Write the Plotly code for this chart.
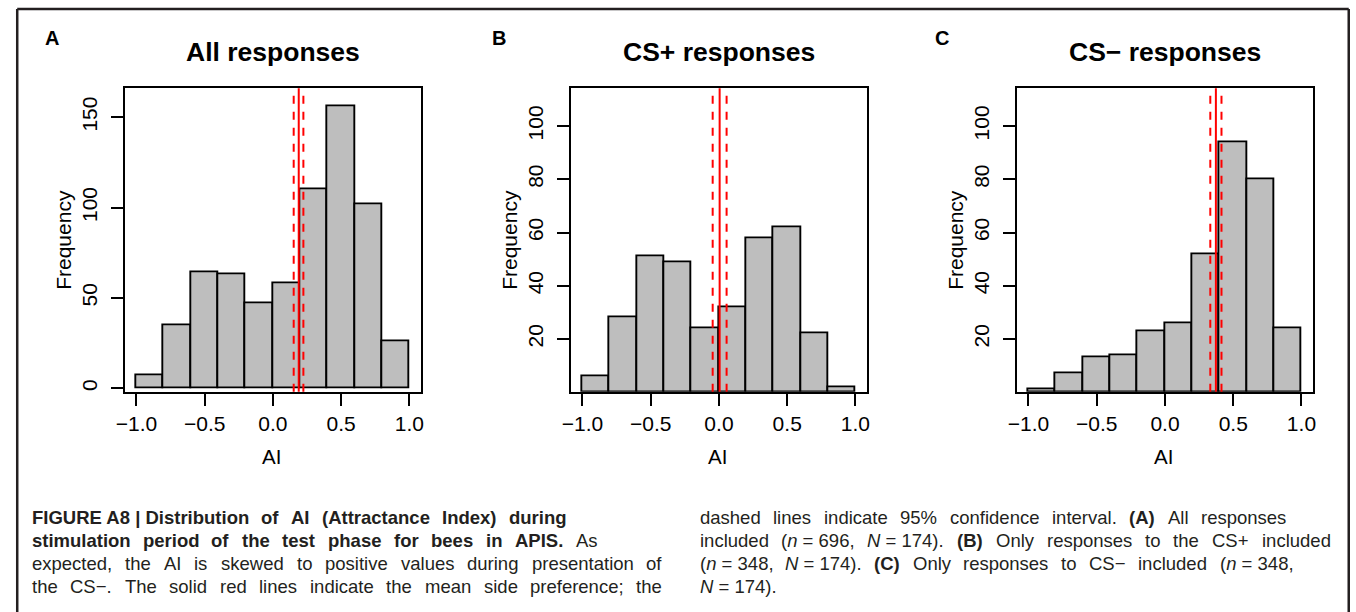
import plotly.graph_objects as go

# ---------------- data ----------------
BIN_EDGES = [-1.0, -0.8, -0.6, -0.4, -0.2, 0.0, 0.2, 0.4, 0.6, 0.8, 1.0]
COUNTS_ALL = [7, 35, 64, 63, 47, 58, 110, 156, 102, 26]
COUNTS_CS_PLUS = [6, 28, 51, 49, 24, 32, 58, 62, 22, 2]
COUNTS_CS_MINUS = [1, 7, 13, 14, 23, 26, 52, 94, 80, 24]
MEAN_AI = [0.189, 0.005, 0.373]
CI_LOW = [0.152, -0.046, 0.332]
CI_HIGH = [0.223, 0.056, 0.414]
PANEL_TITLES = ["All responses", "CS+ responses", "CS\u2212 responses"]
PANEL_LETTERS = ["A", "B", "C"]
X_TICKS = [-1.0, -0.5, 0.0, 0.5, 1.0]
X_TICK_LABELS = ["\u22121.0", "\u22120.5", "0.0", "0.5", "1.0"]
Y_TICKS = [[0, 50, 100, 150], [20, 40, 60, 80, 100], [20, 40, 60, 80, 100]]
X_LABEL = "AI"
Y_LABEL = "Frequency"

CAPTION_LEFT = [
    [("FIGURE A8 | Distribution", True), ("of", True), ("AI", True), ("(Attractance", True), ("Index)", True), ("during", True)],
    [("stimulation", True), ("period", True), ("of", True), ("the", True), ("test", True), ("phase", True),
     ("for", True), ("bees", True), ("in", True), ("APIS.", True), ("As", False)],
    [(w, False) for w in "expected, the AI is skewed to positive values during presentation of".split(" ")],
    [(w, False) for w in "the CS\u2212. The solid red lines indicate the mean side preference; the".split(" ")],
]
CAPTION_RIGHT = [
    [(w, False) for w in "dashed lines indicate 95% confidence interval.".split(" ")]
    + [("(A)", True), ("All", False), ("responses", False)],
    [("included", False), ("(<i>n</i> = 696,", False), ("<i>N</i> = 174).", False), ("(B)", True)]
    + [(w, False) for w in "Only responses to the CS+ included".split(" ")],
    [("(<i>n</i> = 348,", False), ("<i>N</i> = 174).", False), ("(C)", True)]
    + [(w, False) for w in "Only responses to CS\u2212 included".split(" ")] + [("(<i>n</i> = 348,", False)],
    [("<i>N</i> = 174).", False)],
]

# ---------------- layout constants (pixels) ----------------
W, H = 1356, 612
FONT = "Liberation Sans, Arial, Helvetica, sans-serif"
PLOT_LEFT = [117.3, 567.3, 1017.3]
PLOT_W = 298.0
PLOT_TOP, PLOT_BOTTOM = 88.3, 391.7
Y_RANGES = [[-1.85, 166.0], [0.2, 114.2], [0.2, 114.2]]
X_RANGE = [-1.082, 1.082]
BAR_FILL = "#bebebe"
RED = "#ff0000"
TEXT_COL = "#231f20"

CAP_LEFT_X = (23.0, [562.3, 593.3, 658.3, 658.3])
CAP_RIGHT_X = (696.7, [1288.3, 1332.7, 1295.0, None])
CAP_Y = [517, 540, 563, 586]
CAP_SIZE = 18.5


def px(x):
    return x / W


def py(y):
    return 1 - y / H


# Arial / Liberation Sans advance widths (per 1000 em)
REG = dict(zip("ABCDEFGHIJKLMNOPQRSTUVWXYZ",
               [667, 667, 722, 722, 667, 611, 778, 722, 278, 500, 667, 556, 833, 722, 778, 667, 778, 722, 667, 611, 722, 667, 944, 667, 667, 611]))
REG.update(zip("abcdefghijklmnopqrstuvwxyz",
               [556, 556, 500, 556, 556, 278, 556, 556, 222, 222, 500, 222, 833, 556, 556, 556, 556, 333, 500, 278, 556, 500, 722, 500, 500, 500]))
REG.update({" ": 278, ",": 278, ".": 278, ";": 278, "(": 333, ")": 333, "=": 584, "+": 584, "\u2212": 584, "%": 889, "|": 260})
REG.update({d: 556 for d in "0123456789"})
BOLD = dict(zip("ABCDEFGHIJKLMNOPQRSTUVWXYZ",
                [722, 722, 722, 722, 667, 611, 778, 722, 278, 556, 722, 611, 833, 722, 778, 667, 778, 722, 667, 611, 722, 667, 944, 667, 667, 611]))
BOLD.update(zip("abcdefghijklmnopqrstuvwxyz",
                [556, 611, 556, 611, 556, 333, 611, 611, 278, 278, 556, 278, 889, 611, 611, 611, 611, 389, 556, 333, 611, 556, 778, 556, 556, 500]))
BOLD.update({" ": 278, ",": 278, ".": 278, "(": 333, ")": 333, "|": 280})
BOLD.update({d: 556 for d in "0123456789"})


def strip_tags(s):
    out, inside = [], False
    for ch in s:
        if ch == "<":
            inside = True
        elif ch == ">":
            inside = False
        elif not inside:
            out.append(ch)
    return "".join(out)


def width(tok, bold, size):
    table = BOLD if bold else REG
    return sum(table.get(c, 556) for c in strip_tags(tok)) * size / 1000.0


fig = go.Figure()

centers = [(a + b) / 2 for a, b in zip(BIN_EDGES[:-1], BIN_EDGES[1:])]
widths = [b - a for a, b in zip(BIN_EDGES[:-1], BIN_EDGES[1:])]
all_counts = [COUNTS_ALL, COUNTS_CS_PLUS, COUNTS_CS_MINUS]

shapes = []
annotations = []
layout_axes = {}
for i in range(3):
    xa = "x" if i == 0 else f"x{i + 1}"
    ya = "y" if i == 0 else f"y{i + 1}"
    fig.add_trace(go.Bar(
        x=centers, y=all_counts[i], width=widths, xaxis=xa, yaxis=ya,
        marker=dict(color=BAR_FILL, line=dict(color="black", width=1.9)),
        showlegend=False, hoverinfo="x+y",
    ))
    x0 = PLOT_LEFT[i]
    common = dict(showline=True, linecolor="black", linewidth=1.9, mirror=True,
                  ticks="outside", ticklen=12, tickwidth=1.9, tickcolor="black",
                  showgrid=False, zeroline=False,
                  tickfont=dict(family=FONT, size=21, color="black"))
    layout_axes["xaxis" if i == 0 else f"xaxis{i + 1}"] = dict(
        domain=[px(x0), px(x0 + PLOT_W)], anchor=ya, range=X_RANGE,
        tickmode="array", tickvals=X_TICKS, ticktext=X_TICK_LABELS,
        ticklabelstandoff=0, **common)
    layout_axes["yaxis" if i == 0 else f"yaxis{i + 1}"] = dict(
        domain=[py(PLOT_BOTTOM), py(PLOT_TOP)], anchor=xa, range=Y_RANGES[i],
        tickmode="array", tickvals=Y_TICKS[i], tickangle=-90,
        ticklabelstandoff=6, **common)

    # mean (solid) and 95% CI (dashed)
    shapes.append(dict(type="line", xref=xa, yref=f"{ya} domain", x0=MEAN_AI[i], x1=MEAN_AI[i],
                       y0=0, y1=1, line=dict(color=RED, width=2), layer="above"))
    for v in (CI_LOW[i], CI_HIGH[i]):
        shapes.append(dict(type="line", xref=xa, yref=f"{ya} domain", x0=v, x1=v,
                           y0=0, y1=1, line=dict(color=RED, width=2, dash="8px,8px"), layer="above"))

    cx = x0 + PLOT_W / 2
    annotations.append(dict(text=f"<b>{PANEL_TITLES[i]}</b>", x=px(cx), y=py(52), xref="paper", yref="paper",
                            showarrow=False, xanchor="center", yanchor="middle",
                            font=dict(family=FONT, size=26.5, color="black")))
    annotations.append(dict(text=f"<b>{PANEL_LETTERS[i]}</b>", x=px(43 + [0, 451.5, 898.5][i]), y=py(38),
                            xref="paper", yref="paper", showarrow=False, xanchor="center", yanchor="middle",
                            font=dict(family=FONT, size=20, color="black")))
    annotations.append(dict(text=X_LABEL, x=px(cx - 1), y=py(456), xref="paper", yref="paper",
                            showarrow=False, xanchor="center", yanchor="middle",
                            font=dict(family=FONT, size=20.5, color="black")))
    annotations.append(dict(text=Y_LABEL, x=px(x0 - 62), y=py(240), xref="paper", yref="paper",
                            showarrow=False, xanchor="center", yanchor="middle", textangle=-90,
                            font=dict(family=FONT, size=21, color="black")))

# caption (justified, word by word)
for (xs, ends), lines in ((CAP_LEFT_X, CAPTION_LEFT), (CAP_RIGHT_X, CAPTION_RIGHT)):
    for li, toks in enumerate(lines):
        ws = [width(t, b, CAP_SIZE) for t, b in toks]
        xe = ends[li]
        if xe is None or len(toks) < 2:
            gap = width(" ", False, CAP_SIZE)
        else:
            gap = (xe - xs - sum(ws)) / (len(toks) - 1)
        x = xs
        for (t, b), w in zip(toks, ws):
            annotations.append(dict(text=f"<b>{t}</b>" if b else t, x=px(x), y=py(CAP_Y[li]),
                                    xref="paper", yref="paper", showarrow=False,
                                    xanchor="left", yanchor="middle", borderpad=0, borderwidth=0,
                                    font=dict(family=FONT, size=CAP_SIZE, color=TEXT_COL)))
            x += w + gap

# outer frame (open at the bottom)
frame = dict(color="#231f20", width=2.5)
shapes.append(dict(type="line", xref="paper", yref="paper", x0=px(8.3), x1=px(8.3), y0=py(9), y1=0, line=frame))
shapes.append(dict(type="line", xref="paper", yref="paper", x0=px(8.3), x1=px(1351.7), y0=py(9), y1=py(9), line=frame))
shapes.append(dict(type="line", xref="paper", yref="paper", x0=px(1351.7), x1=px(1351.7), y0=py(9), y1=0, line=frame))

fig.update_layout(
    width=W, height=H, margin=dict(l=0, r=0, t=0, b=0), autosize=False,
    paper_bgcolor="white", plot_bgcolor="white", bargap=0,
    font=dict(family=FONT, color="black"),
    shapes=shapes, annotations=annotations, showlegend=False,
    **layout_axes,
)

fig.write_html("out.html")
